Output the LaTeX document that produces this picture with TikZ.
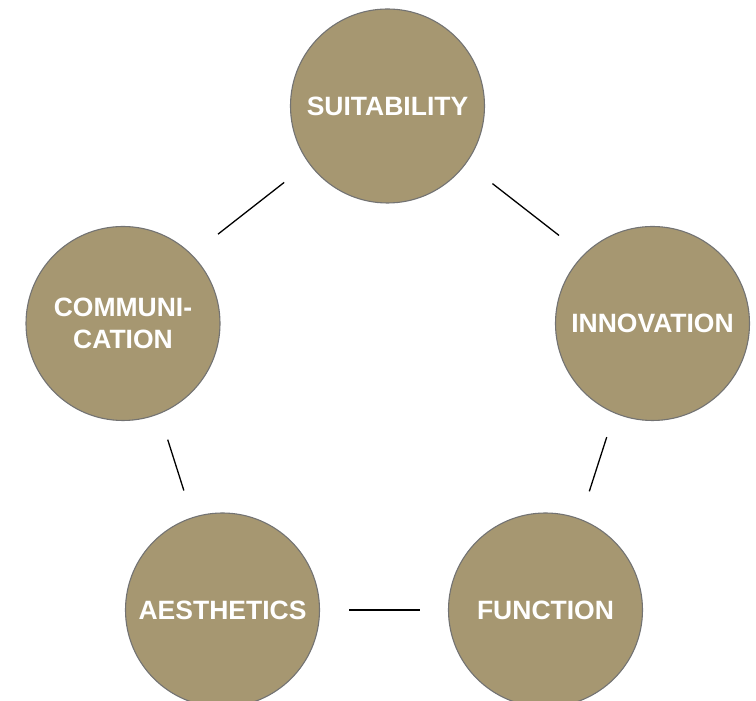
\documentclass[tikz,border=0pt]{standalone}
\usepackage{fontspec}
\setmainfont{Liberation Sans}
\definecolor{gold}{RGB}{166,151,113}
\definecolor{rim}{RGB}{115,115,115}
\begin{document}
\begin{tikzpicture}[x=1pt,y=1pt,
  topic/.style={circle,draw=rim,line width=1.1pt,fill=gold,minimum size=194pt,inner sep=0pt,
    text=white,font=\fontsize{26.5}{32}\selectfont\bfseries,align=center},
  link/.style={draw=black,line width=1.3pt}]
\useasboundingbox (0,0) rectangle (756,701);
\clip (0,0) rectangle (756,701);
\node[topic] (suit) at (387.5,595) {SUITABILITY};
\node[topic] (inno) at (652.5,377.5) {INNOVATION};
\node[topic] (comm) at (123,377.5) {COMMUNI-\\CATION};
\node[topic] (aest) at (222.5,91) {AESTHETICS};
\node[topic] (func) at (545.5,91) {FUNCTION};
\draw[link,shorten <=33pt,shorten >=31pt] (comm.45) -- (suit.216);
\draw[link,shorten <=33pt,shorten >=31pt] (suit.-36.4) -- (inno.135);
\draw[link,shorten <=25pt,shorten >=29pt] (inno.247.5) -- (func.69.8);
\draw[link,shorten <=27pt,shorten >=28pt] (comm.-68.7) -- (aest.108);
\draw[link,shorten <=29pt,shorten >=28pt] (aest) -- (func);
\end{tikzpicture}
\end{document}
